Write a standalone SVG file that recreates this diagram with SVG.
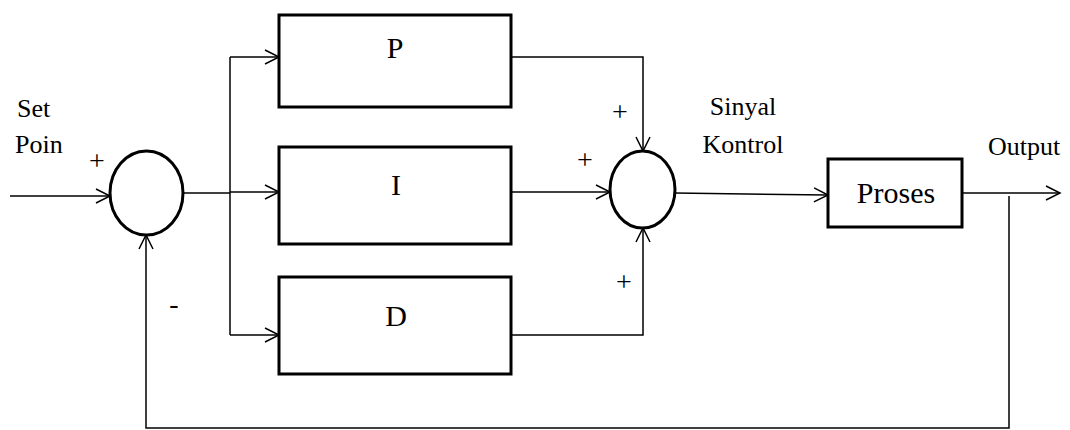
<svg xmlns="http://www.w3.org/2000/svg" width="1070" height="430" viewBox="0 0 1070 430">
<style>
.box{fill:#fff;stroke:#000;stroke-width:3}
.sum{fill:#fff;stroke:#000;stroke-width:3}
.ln{fill:none;stroke:#000;stroke-width:1.5}
.t{font-family:"Liberation Serif","Times New Roman",serif;fill:#000}
.lbl{font-size:30px;text-anchor:middle}
.sm{font-size:26px}
.pm{font-size:28px;text-anchor:middle}
</style>
<defs>
<marker id="arr" markerWidth="20" markerHeight="20" refX="15" refY="8" markerUnits="userSpaceOnUse" orient="auto">
<path d="M1,1 L15,8 L1,15" fill="none" stroke="#000" stroke-width="1.5"/>
</marker>
</defs>
<g id="connectors">
<path class="ln" d="M10,196 L110,196" marker-end="url(#arr)"/>
<path class="ln" d="M183,193 L230,193"/>
<path class="ln" d="M230,57 L230,335"/>
<path class="ln" d="M230,57 L279,57" marker-end="url(#arr)"/>
<path class="ln" d="M230,192 L279,192" marker-end="url(#arr)"/>
<path class="ln" d="M230,335 L279,335" marker-end="url(#arr)"/>
<path class="ln" d="M511,57 L643,57 L643,151" marker-end="url(#arr)"/>
<path class="ln" d="M511,192 L610,192" marker-end="url(#arr)"/>
<path class="ln" d="M511,335 L643,335 L643,228" marker-end="url(#arr)"/>
<path class="ln" d="M675,193 L828,195" marker-end="url(#arr)"/>
<path class="ln" d="M962,193 L1060,193" marker-end="url(#arr)"/>
<path class="ln" d="M1009,196 L1009,428 L146,428 L146,235" marker-end="url(#arr)"/>
</g>
<g id="sum1"><ellipse class="sum" cx="146.5" cy="193" rx="36.5" ry="42"/></g>
<g id="P"><rect class="box" x="279" y="15" width="232" height="92"/><text class="t lbl" x="395" y="58">P</text></g>
<g id="I"><rect class="box" x="279" y="147" width="232" height="97"/><text class="t lbl" x="396" y="195">I</text></g>
<g id="D"><rect class="box" x="279" y="277" width="232" height="97"/><text class="t lbl" x="396" y="326">D</text></g>
<g id="sum2"><ellipse class="sum" cx="642.5" cy="189.5" rx="32.5" ry="38.5"/></g>
<g id="Proses"><rect class="box" x="828" y="159" width="134" height="68"/><text class="t lbl" x="896" y="203">Proses</text></g>
<g id="labels">
<text class="t sm" x="17" y="117">Set</text>
<text class="t sm" x="15" y="153">Poin</text>
<text class="t pm" x="97" y="170">+</text>
<text class="t pm" x="174" y="313">-</text>
<text class="t pm" x="620" y="121">+</text>
<text class="t pm" x="585" y="169">+</text>
<text class="t pm" x="624" y="291">+</text>
<text class="t sm" x="743" y="115" text-anchor="middle">Sinyal</text>
<text class="t sm" x="743" y="153" text-anchor="middle">Kontrol</text>
<text class="t sm" x="988" y="155">Output</text>
</g>
</svg>
